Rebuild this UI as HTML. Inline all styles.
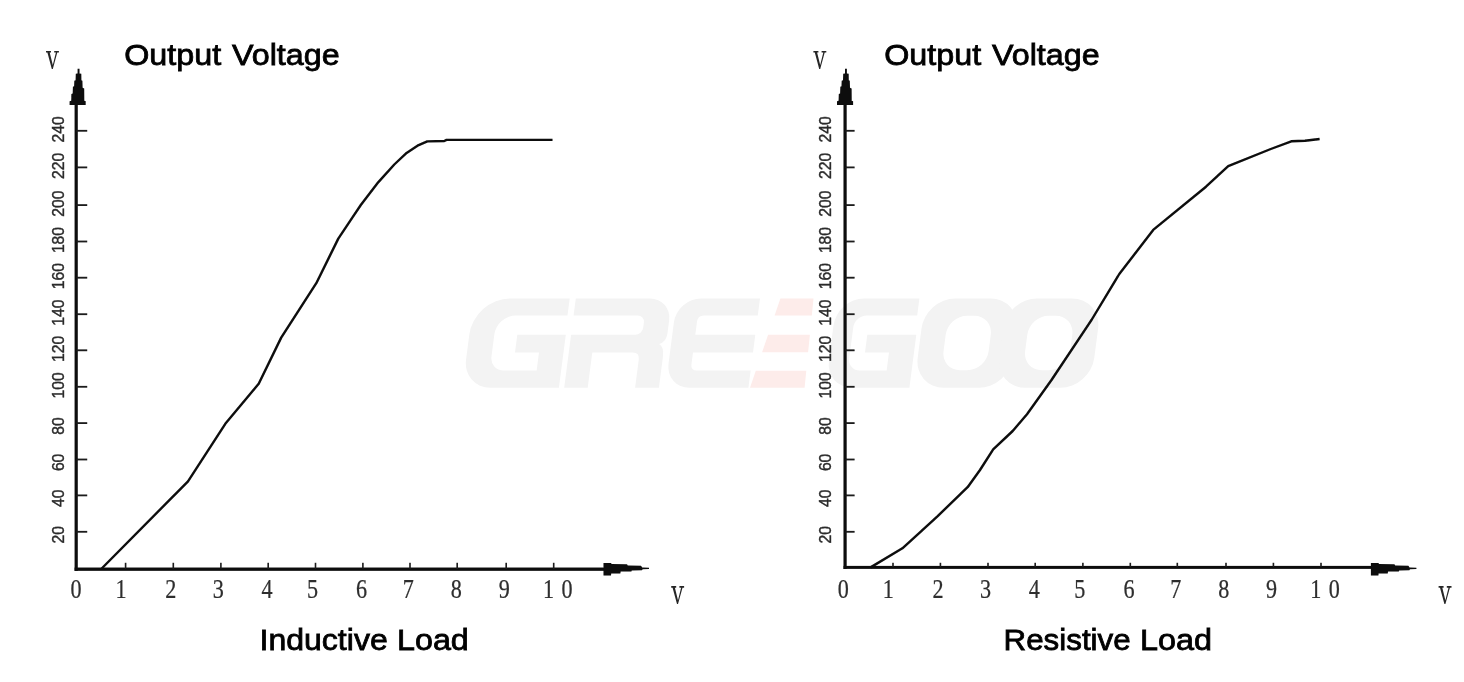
<!DOCTYPE html>
<html><head><meta charset="utf-8"><title>Output Voltage</title>
<style>
html,body{margin:0;padding:0;background:#fff;}
body{width:1464px;height:682px;overflow:hidden;font-family:"Liberation Sans",sans-serif;}
svg{display:block;will-change:transform}
.tt{font-family:"Liberation Sans",sans-serif;font-size:30.4px;fill:#000;stroke:#000;stroke-width:0.8px;}
.yl{font-family:"Liberation Sans",sans-serif;font-size:15.7px;letter-spacing:0px;fill:#2a2a2a;stroke:#2a2a2a;stroke-width:0.4px;}
.xl{font-family:"Liberation Serif",serif;font-size:26.7px;fill:#2e2e2e;stroke:#2e2e2e;stroke-width:0.25px;}
</style></head>
<body>
<svg xmlns="http://www.w3.org/2000/svg" width="1464" height="682" viewBox="0 0 1464 682">
<defs><filter id="soft" x="0" y="0" width="1464" height="682" filterUnits="userSpaceOnUse"><feGaussianBlur stdDeviation="0.35"/></filter></defs>
<rect width="1464" height="682" fill="#fff"/>
<g fill="#f3f3f3" transform="translate(0,298.5) skewX(-7.4) translate(0,-298.5)"><path d="M569.7,298.5 H510 A36,36 0 0 0 474,334.5 V359.8 A28,28 0 0 0 502,387.8 H570.5 V334.7 H522 V352.5 H546 V370.5 H513 A14,14 0 0 1 499,356.5 V334.5 A19,19 0 0 1 518,315.5 H569.7 Z"/>
<path d="M575.8,298.5 H650 A22,22 0 0 1 672,320.5 V333 Q672,342 665,344 Q670.5,347 670.5,357 V387.8 H646.7 V359.5 Q646.7,352.5 639.7,352.5 H599.3 V387.8 H575.8 V334.7 H640 A7,7 0 0 0 647,327.7 V322.5 A7,7 0 0 0 640,315.5 H575.8 Z"/>
<path d="M760,298.5 H701 A24,24 0 0 0 677,322.5 V363.8 A24,24 0 0 0 701,387.8 H760 V370.5 H706 Q700,370.5 700,364.5 V352.5 H760 V334.7 H700 V321.5 Q700,315.5 706,315.5 H760 Z"/>
<path d="M919.4,298.5 H864 A27,27 0 0 0 837,325.5 V360.8 A27,27 0 0 0 864,387.8 H921 V334.7 H872 V352.5 H896 V370.5 H869 A12,12 0 0 1 857,358.5 V327.5 A12,12 0 0 1 869,315.5 H919.4 Z"/>
<path fill-rule="evenodd" d="M955.4,298.5 H990.5 A30,30 0 0 1 1020.5,328.5 V357.8 A30,30 0 0 1 990.5,387.8 H955.4 A30,30 0 0 1 925.4,357.8 V328.5 A30,30 0 0 1 955.4,298.5 Z M969.4,315.8 H976.5 A19,19 0 0 1 995.5,334.8 V351.3 A19,19 0 0 1 976.5,370.3 H969.4 A19,19 0 0 1 950.4,351.3 V334.8 A19,19 0 0 1 969.4,315.8 Z"/>
<path fill-rule="evenodd" d="M1037,298.5 H1072 A30,30 0 0 1 1102,328.5 V357.8 A30,30 0 0 1 1072,387.8 H1037 A30,30 0 0 1 1007,357.8 V328.5 A30,30 0 0 1 1037,298.5 Z M1051,315.8 H1058 A19,19 0 0 1 1077,334.8 V351.3 A19,19 0 0 1 1058,370.3 H1051 A19,19 0 0 1 1032,351.3 V334.8 A19,19 0 0 1 1051,315.8 Z"/></g><g fill="#fdecea"><path d="M780.4,298.5 L813.5,298.5 L811.8,315.5 L774.6,315.5 Z"/>
<path d="M768.1,334.7 L809.9,334.7 L808.1,352.2 L762.1,352.2 Z"/>
<path d="M755.8,370.8 L806.3,370.8 L804.6,387.8 L750.0,387.8 Z"/></g>
<g filter="url(#soft)">
<rect x="74.6" y="100" width="3.2" height="470.9" fill="#0a0a0a"/>
<polygon points="77.6,68.8 77.6,73.4 75.8,73.8 75.6,80.3 74.3,80.8 74.1,86.2 72.9,86.8 72.7,93.5 71.4,94.0 71.2,100.7 69.6,101.2 69.6,104.9 85.7,104.9 85.7,101.2 84.3,100.7 84.2,88.5 82.6,87.8 82.4,80.8 81.4,80.3 81.3,73.8 79.5,73.4 79.5,68.8" fill="#0a0a0a"/>
<rect x="74.6" y="567.55" width="531.4" height="3.3" fill="#0a0a0a"/>
<polygon points="603.5,563.0 611.0,563.0 611.6,564.1 627.0,564.2 627.8,565.6 641.0,565.7 642.2,567.5 649.0,567.8 649.0,569.1 642.6,569.3 642.0,570.3 631.8,570.4 631.4,571.5 620.7,571.6 620.3,573.5 611.2,573.6 611.0,575.6 603.5,575.6" fill="#0a0a0a"/>
<rect x="76.2" y="530.9" width="11.0" height="1.8" fill="#1a1a1a"/>
<text class="yl" transform="translate(63.6,543.4) rotate(-90)">20</text>
<rect x="76.2" y="494.5" width="11.0" height="1.8" fill="#1a1a1a"/>
<text class="yl" transform="translate(63.6,507.0) rotate(-90)">40</text>
<rect x="76.2" y="458.6" width="11.0" height="1.8" fill="#1a1a1a"/>
<text class="yl" transform="translate(63.6,471.1) rotate(-90)">60</text>
<rect x="76.2" y="422.2" width="11.0" height="1.8" fill="#1a1a1a"/>
<text class="yl" transform="translate(63.6,434.7) rotate(-90)">80</text>
<rect x="76.2" y="385.9" width="11.0" height="1.8" fill="#1a1a1a"/>
<text class="yl" transform="translate(63.6,398.4) rotate(-90)">100</text>
<rect x="76.2" y="349.4" width="11.0" height="1.8" fill="#1a1a1a"/>
<text class="yl" transform="translate(63.6,361.9) rotate(-90)">120</text>
<rect x="76.2" y="313.3" width="11.0" height="1.8" fill="#1a1a1a"/>
<text class="yl" transform="translate(63.6,325.8) rotate(-90)">140</text>
<rect x="76.2" y="276.8" width="11.0" height="1.8" fill="#1a1a1a"/>
<text class="yl" transform="translate(63.6,289.3) rotate(-90)">160</text>
<rect x="76.2" y="240.6" width="11.0" height="1.8" fill="#1a1a1a"/>
<text class="yl" transform="translate(63.6,253.1) rotate(-90)">180</text>
<rect x="76.2" y="204.2" width="11.0" height="1.8" fill="#1a1a1a"/>
<text class="yl" transform="translate(63.6,216.7) rotate(-90)">200</text>
<rect x="76.2" y="166.5" width="11.0" height="1.8" fill="#1a1a1a"/>
<text class="yl" transform="translate(63.6,179.0) rotate(-90)">220</text>
<rect x="76.2" y="129.9" width="11.0" height="1.8" fill="#1a1a1a"/>
<text class="yl" transform="translate(63.6,142.4) rotate(-90)">240</text>
<rect x="124.8" y="562.8" width="1.6" height="6.4" fill="#1a1a1a"/>
<rect x="172.5" y="562.8" width="1.6" height="6.4" fill="#1a1a1a"/>
<rect x="220.1" y="562.8" width="1.6" height="6.4" fill="#1a1a1a"/>
<rect x="267.4" y="562.8" width="1.6" height="6.4" fill="#1a1a1a"/>
<rect x="314.7" y="562.8" width="1.6" height="6.4" fill="#1a1a1a"/>
<rect x="362.1" y="562.8" width="1.6" height="6.4" fill="#1a1a1a"/>
<rect x="409.2" y="562.8" width="1.6" height="6.4" fill="#1a1a1a"/>
<rect x="456.4" y="562.8" width="1.6" height="6.4" fill="#1a1a1a"/>
<rect x="505.4" y="562.8" width="1.6" height="6.4" fill="#1a1a1a"/>
<rect x="552.9" y="562.8" width="1.6" height="6.4" fill="#1a1a1a"/>
<text class="xl" transform="translate(76.0,598.1) scale(0.83,1)" text-anchor="middle">0</text>
<text class="xl" transform="translate(121.0,598.1) scale(0.83,1)" text-anchor="middle">1</text>
<text class="xl" transform="translate(170.7,598.1) scale(0.83,1)" text-anchor="middle">2</text>
<text class="xl" transform="translate(218.2,598.1) scale(0.83,1)" text-anchor="middle">3</text>
<text class="xl" transform="translate(267.0,598.1) scale(0.83,1)" text-anchor="middle">4</text>
<text class="xl" transform="translate(312.5,598.1) scale(0.83,1)" text-anchor="middle">5</text>
<text class="xl" transform="translate(361.6,598.1) scale(0.83,1)" text-anchor="middle">6</text>
<text class="xl" transform="translate(408.4,598.1) scale(0.83,1)" text-anchor="middle">7</text>
<text class="xl" transform="translate(456.3,598.1) scale(0.83,1)" text-anchor="middle">8</text>
<text class="xl" transform="translate(504.2,598.1) scale(0.83,1)" text-anchor="middle">9</text>
<text class="xl" transform="translate(548.5,598.1) scale(0.83,1)" text-anchor="middle">1</text>
<text class="xl" transform="translate(567.0,598.1) scale(0.83,1)" text-anchor="middle">0</text>
<path transform="translate(45.7,50.9)" d="M0.3,0 H5.3 V1.7 H4.0 L7.1,14.2 L10.2,1.7 H8.5 V0 H13.2 V1.7 H11.6 L7.1,18.1 H6.1 L1.7,1.7 H0.3 Z" fill="#262626"/>
<path transform="translate(670.9,586)" d="M0.3,0 H5.3 V1.7 H4.0 L7.1,14.2 L10.2,1.7 H8.5 V0 H13.2 V1.7 H11.6 L7.1,18.1 H6.1 L1.7,1.7 H0.3 Z" fill="#262626"/>
<polyline points="101.2,569.0 188.0,481.4 225.3,423.8 258.7,383.8 281.2,337.6 316.3,283.2 338.3,238.6 360.8,205.0 378.4,182.1 394.3,164.5 406.6,152.9 417.5,145.7 427.3,141.4 444.3,141.0 446.5,139.9 552.5,139.9" fill="none" stroke="#0a0a0a" stroke-width="2.4" stroke-linejoin="round" stroke-linecap="butt"/>
<rect x="843.5" y="100" width="3.2" height="468.9" fill="#0a0a0a"/>
<polygon points="845.0,68.8 845.0,73.4 843.2,73.8 843.0,80.3 841.7,80.8 841.5,86.2 840.3,86.8 840.1,93.5 838.8,94.0 838.6,100.7 837.0,101.2 837.0,104.9 853.1,104.9 853.1,101.2 851.7,100.7 851.6,88.5 850.0,87.8 849.8,80.8 848.8,80.3 848.7,73.8 846.9,73.4 846.9,68.8" fill="#0a0a0a"/>
<rect x="843.5" y="565.90" width="529.9" height="3.0" fill="#0a0a0a"/>
<polygon points="1370.9,563.0 1378.4,563.0 1379.0,564.1 1394.4,564.2 1395.2,565.6 1408.4,565.7 1409.6,567.5 1416.4,567.8 1416.4,569.1 1410.0,569.3 1409.4,570.3 1399.2,570.4 1398.8,571.5 1388.1,571.6 1387.7,573.5 1378.6,573.6 1378.4,575.6 1370.9,575.6" fill="#0a0a0a"/>
<rect x="845.1" y="530.9" width="9.5" height="1.8" fill="#1a1a1a"/>
<text class="yl" transform="translate(831.0,543.4) rotate(-90)">20</text>
<rect x="845.1" y="494.5" width="9.5" height="1.8" fill="#1a1a1a"/>
<text class="yl" transform="translate(831.0,507.0) rotate(-90)">40</text>
<rect x="845.1" y="458.6" width="9.5" height="1.8" fill="#1a1a1a"/>
<text class="yl" transform="translate(831.0,471.1) rotate(-90)">60</text>
<rect x="845.1" y="422.2" width="9.5" height="1.8" fill="#1a1a1a"/>
<text class="yl" transform="translate(831.0,434.7) rotate(-90)">80</text>
<rect x="845.1" y="385.9" width="9.5" height="1.8" fill="#1a1a1a"/>
<text class="yl" transform="translate(831.0,398.4) rotate(-90)">100</text>
<rect x="845.1" y="349.4" width="9.5" height="1.8" fill="#1a1a1a"/>
<text class="yl" transform="translate(831.0,361.9) rotate(-90)">120</text>
<rect x="845.1" y="313.3" width="9.5" height="1.8" fill="#1a1a1a"/>
<text class="yl" transform="translate(831.0,325.8) rotate(-90)">140</text>
<rect x="845.1" y="276.8" width="9.5" height="1.8" fill="#1a1a1a"/>
<text class="yl" transform="translate(831.0,289.3) rotate(-90)">160</text>
<rect x="845.1" y="240.6" width="9.5" height="1.8" fill="#1a1a1a"/>
<text class="yl" transform="translate(831.0,253.1) rotate(-90)">180</text>
<rect x="845.1" y="204.2" width="9.5" height="1.8" fill="#1a1a1a"/>
<text class="yl" transform="translate(831.0,216.7) rotate(-90)">200</text>
<rect x="845.1" y="166.5" width="9.5" height="1.8" fill="#1a1a1a"/>
<text class="yl" transform="translate(831.0,179.0) rotate(-90)">220</text>
<rect x="845.1" y="129.9" width="9.5" height="1.8" fill="#1a1a1a"/>
<text class="yl" transform="translate(831.0,142.4) rotate(-90)">240</text>
<rect x="892.2" y="562.8" width="1.6" height="4.6" fill="#1a1a1a"/>
<rect x="939.6" y="562.8" width="1.6" height="4.6" fill="#1a1a1a"/>
<rect x="987.2" y="562.8" width="1.6" height="4.6" fill="#1a1a1a"/>
<rect x="1034.4" y="562.8" width="1.6" height="4.6" fill="#1a1a1a"/>
<rect x="1082.1" y="562.8" width="1.6" height="4.6" fill="#1a1a1a"/>
<rect x="1129.5" y="562.8" width="1.6" height="4.6" fill="#1a1a1a"/>
<rect x="1176.5" y="562.8" width="1.6" height="4.6" fill="#1a1a1a"/>
<rect x="1225.2" y="562.8" width="1.6" height="4.6" fill="#1a1a1a"/>
<rect x="1272.6" y="562.8" width="1.6" height="4.6" fill="#1a1a1a"/>
<rect x="1320.2" y="562.8" width="1.6" height="4.6" fill="#1a1a1a"/>
<text class="xl" transform="translate(843.4,598.1) scale(0.83,1)" text-anchor="middle">0</text>
<text class="xl" transform="translate(888.4,598.1) scale(0.83,1)" text-anchor="middle">1</text>
<text class="xl" transform="translate(938.1,598.1) scale(0.83,1)" text-anchor="middle">2</text>
<text class="xl" transform="translate(985.6,598.1) scale(0.83,1)" text-anchor="middle">3</text>
<text class="xl" transform="translate(1034.4,598.1) scale(0.83,1)" text-anchor="middle">4</text>
<text class="xl" transform="translate(1079.9,598.1) scale(0.83,1)" text-anchor="middle">5</text>
<text class="xl" transform="translate(1129.0,598.1) scale(0.83,1)" text-anchor="middle">6</text>
<text class="xl" transform="translate(1175.8,598.1) scale(0.83,1)" text-anchor="middle">7</text>
<text class="xl" transform="translate(1223.7,598.1) scale(0.83,1)" text-anchor="middle">8</text>
<text class="xl" transform="translate(1271.6,598.1) scale(0.83,1)" text-anchor="middle">9</text>
<text class="xl" transform="translate(1315.9,598.1) scale(0.83,1)" text-anchor="middle">1</text>
<text class="xl" transform="translate(1334.4,598.1) scale(0.83,1)" text-anchor="middle">0</text>
<path transform="translate(813.1,50.9)" d="M0.3,0 H5.3 V1.7 H4.0 L7.1,14.2 L10.2,1.7 H8.5 V0 H13.2 V1.7 H11.6 L7.1,18.1 H6.1 L1.7,1.7 H0.3 Z" fill="#262626"/>
<path transform="translate(1438.3,586)" d="M0.3,0 H5.3 V1.7 H4.0 L7.1,14.2 L10.2,1.7 H8.5 V0 H13.2 V1.7 H11.6 L7.1,18.1 H6.1 L1.7,1.7 H0.3 Z" fill="#262626"/>
<polyline points="870.6,567.4 902.4,548.3 921.6,530.9 937.7,516.2 967.6,487.2 980.0,470.0 993.2,449.3 1012.7,431.0 1027.0,414.2 1051.5,380.0 1091.5,320.0 1119.3,274.0 1153.2,229.9 1206.0,186.7 1228.2,166.2 1270.8,149.0 1291.3,141.3 1305.0,140.8 1319.6,139.0" fill="none" stroke="#0a0a0a" stroke-width="2.4" stroke-linejoin="round" stroke-linecap="butt"/>
</g>
<text class="tt" x="124.15" y="64.8" textLength="96.97" lengthAdjust="spacingAndGlyphs">Output</text>
<text class="tt" x="232.01" y="64.8" textLength="107.61" lengthAdjust="spacingAndGlyphs">Voltage</text>
<text class="tt" x="259.50" y="650.2" textLength="128.22" lengthAdjust="spacingAndGlyphs">Inductive</text>
<text class="tt" x="396.97" y="650.2" textLength="71.85" lengthAdjust="spacingAndGlyphs">Load</text>
<text class="tt" x="884.15" y="64.8" textLength="96.97" lengthAdjust="spacingAndGlyphs">Output</text>
<text class="tt" x="992.01" y="64.8" textLength="107.61" lengthAdjust="spacingAndGlyphs">Voltage</text>
<text class="tt" x="1003.60" y="650.2" textLength="127.03" lengthAdjust="spacingAndGlyphs">Resistive</text>
<text class="tt" x="1140.09" y="650.2" textLength="72.02" lengthAdjust="spacingAndGlyphs">Load</text>
</svg>
</body></html>
